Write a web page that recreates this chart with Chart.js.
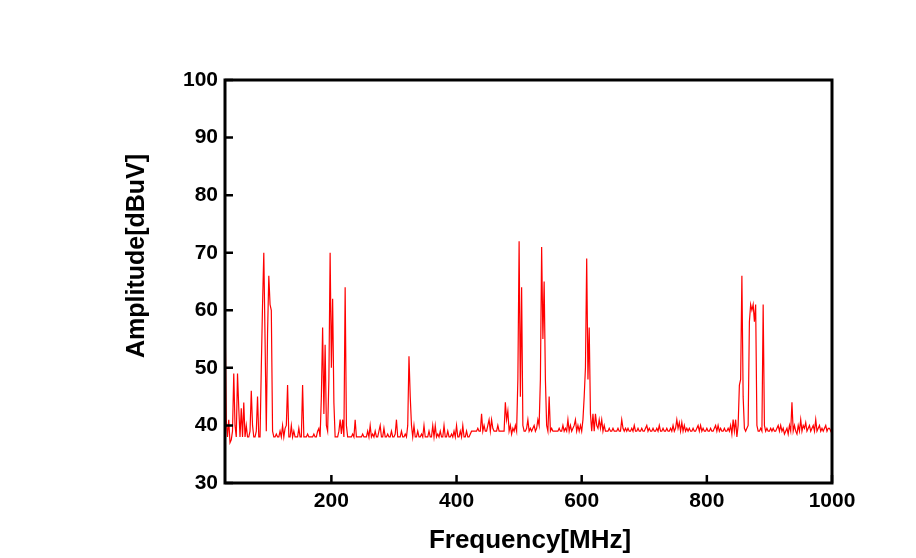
<!DOCTYPE html>
<html>
<head>
<meta charset="utf-8">
<title>Spectrum</title>
<script src="https://cdn.jsdelivr.net/npm/chart.js@4.4.1/dist/chart.umd.min.js"></script>
<style>
    html, body { margin: 0; padding: 0; background: #fff; }
    #wrap { width: 916px; height: 558px; }
</style>
</head>
<body>
<div id="wrap"><canvas id="spectrumChart" width="916" height="558"></canvas></div>
<script>
// Sweep grid (MHz)
const freqStart = 30;
const freqStep = 2;

// Amplitude readings [dBuV], one per 2 MHz step
const ampBand1 = [ // 30 - 276 MHz
    60, 41, 38, 41, 37, 37.5, 39, 49, 40, 38, 49, 43, 38, 43, 38, 44, 38, 40, 38, 38, 39, 46, 40, 38,
    38, 39, 45, 38, 38, 50, 61, 70, 55, 39, 56, 66, 61, 60, 39, 38, 38, 38.5, 38, 38, 39, 38, 40, 38, 39.5,
    40, 47, 38, 38, 40, 38, 39, 38, 38, 38, 39.5, 38, 38, 47, 38, 38, 38, 38.5, 38, 38, 38, 38, 38.5, 38, 38,
    39, 39.5, 38, 45, 57, 42, 54, 40, 39, 48, 70, 50, 62, 44, 38, 38, 38, 39, 41, 38.5, 41, 38, 64, 40, 38,
    38, 38, 38, 38.5, 38, 41, 38, 38, 38, 38, 38, 38.5, 38, 38, 38, 39, 38, 40, 38, 38.5, 38, 39, 38, 38, 39
];
const ampBand2 = [ // 278 - 526 MHz
    40, 38, 38, 39.5, 38, 38, 38.5, 38, 38, 39, 38, 38, 38.5, 41, 38, 38, 38, 39, 38, 38, 38.5, 38, 40, 52, 45,
    40, 38, 40, 38, 38, 39, 38, 38, 38.5, 38, 40, 38, 38, 38, 39, 38, 38, 40, 38, 40, 38, 38.5, 38, 39, 38,
    38, 40, 38, 38, 39, 38, 38, 38.5, 38, 39, 38, 40, 38, 38, 39, 38, 40, 38, 38, 39, 38, 38, 38.5, 39, 39,
    39, 39, 39, 39.5, 39, 39, 42, 39, 40, 39, 39, 40, 41, 39, 41, 39.5, 39, 39, 39, 40, 39, 39, 39, 39, 39,
    44, 41, 42.5, 39, 40, 38.5, 39.5, 39, 40, 39, 48, 72, 45, 64, 40, 39, 39, 39.5, 41, 39, 39.5, 39, 39.5, 40, 39
];
const ampBand3 = [ // 528 - 776 MHz
    39.5, 41, 40, 48, 71, 55, 65, 48, 40, 39, 45, 39, 39.5, 39, 39, 39, 39, 39, 39.5, 39, 39, 40, 39, 39.5, 39,
    41, 39, 40, 39, 39.5, 40, 41, 39, 40, 39, 40, 39, 41, 45, 50, 69, 48, 57, 42, 39, 42, 39, 42, 40, 39.5,
    41, 39.5, 41, 39, 40, 39, 39, 39, 39.5, 39, 39, 39.5, 39, 39, 39, 39.5, 39, 39, 41, 39.5, 39, 39.5, 39, 39.5, 39,
    39, 39.5, 39, 40, 39, 39, 39.5, 39, 39, 39.5, 39, 39, 39.5, 40, 39, 39.5, 39, 39, 39.5, 39, 39, 39.5, 39, 40, 39,
    39, 39.5, 39, 39, 39.5, 39, 39, 39.5, 39, 40, 39, 39.5, 41, 39.5, 40.5, 39, 40.5, 39, 40, 39, 39.5, 39, 39.5, 39, 39
];
const ampBand4 = [ // 778 - 1000 MHz
    39.5, 39, 39, 39.5, 40, 39, 40, 39, 39.5, 39, 39, 39.5, 39, 39, 39.5, 39, 39, 39.5, 40, 39, 40, 39, 39.5, 39, 39,
    39.5, 39, 39, 39.5, 39, 40, 38.5, 41, 39, 41, 38, 40, 47, 48, 66, 45, 39.5, 39, 39.5, 40, 58, 61, 60, 61, 58,
    61, 40, 39, 39, 39.5, 39, 61, 40, 39, 39.5, 39, 39, 39.5, 39, 39.5, 39, 39, 39.5, 40, 39, 40, 39, 39.5, 38.5, 39,
    39.5, 38.5, 40, 39, 44, 39, 40, 39, 38.5, 40, 39, 41, 39, 40, 39.5, 40.5, 39, 39.5, 40, 39, 39.5, 40, 39, 41, 39,
    39.5, 40, 39, 39.5, 39, 39.5, 40, 39, 39.5, 39.5, 39, 39.5
];

// Axis ticks
const xTicks = [200, 400, 600, 800, 1000];
const yTicks = [30, 40, 50, 60, 70, 80, 90, 100];

const xTitle = 'Frequency[MHz]';
const yTitle = 'Amplitude[dBuV]';

// Build points
const amplitude = ampBand1.concat(ampBand2, ampBand3, ampBand4);
const points = amplitude.map((v, i) => ({ x: freqStart + i * freqStep, y: v }));

// Frame, inward ticks and axis titles
const framePlugin = {
    id: 'frame',
    afterDraw(chart) {
        const ctx = chart.ctx;
        const area = chart.chartArea;
        const xs = chart.scales.x;
        const ys = chart.scales.y;

        ctx.save();
        ctx.strokeStyle = '#000';
        ctx.lineWidth = 3;
        ctx.strokeRect(area.left, area.top, area.right - area.left, area.bottom - area.top);

        ctx.lineWidth = 2.5;
        ctx.beginPath();
        xTicks.forEach(v => {
            const px = xs.getPixelForValue(v);
            ctx.moveTo(px, area.bottom);
            ctx.lineTo(px, area.bottom - 8);
        });
        yTicks.forEach(v => {
            const py = ys.getPixelForValue(v);
            ctx.moveTo(area.left, py);
            ctx.lineTo(area.left + 8, py);
        });
        ctx.stroke();

        ctx.fillStyle = '#000';
        ctx.font = 'bold 26px "Liberation Sans", Arial, sans-serif';
        ctx.textAlign = 'center';
        ctx.textBaseline = 'alphabetic';
        ctx.fillText(xTitle, 530, 548);

        ctx.translate(144, 256);
        ctx.rotate(-Math.PI / 2);
        ctx.font = 'bold 25px "Liberation Sans", Arial, sans-serif';
        ctx.fillText(yTitle, 0, 0);
        ctx.restore();
    }
};

// Create chart
new Chart(document.getElementById('spectrumChart'), {
    type: 'line',
    data: {
        datasets: [{
            data: points,
            borderColor: '#ff0000',
            borderWidth: 1.2,
            pointRadius: 0,
            tension: 0,
            fill: false
        }]
    },
    options: {
        responsive: false,
        animation: false,
        devicePixelRatio: 1,
        layout: { padding: { top: 80, right: 84, left: 0, bottom: 0 } },
        plugins: {
            legend: { display: false },
            tooltip: { enabled: false }
        },
        scales: {
            x: {
                type: 'linear',
                min: 30,
                max: 1000,
                afterFit: scale => { scale.height = 75; },
                afterBuildTicks: scale => { scale.ticks = xTicks.map(v => ({ value: v })); },
                grid: { display: false, drawTicks: false },
                border: { display: false },
                ticks: {
                    color: '#000',
                    padding: 6,
                    maxRotation: 0,
                    callback: v => String(v),
                    font: { family: '"Liberation Sans", Arial, sans-serif', size: 21, weight: 'bold' }
                }
            },
            y: {
                type: 'linear',
                min: 30,
                max: 100,
                afterFit: scale => { scale.width = 225; },
                afterBuildTicks: scale => { scale.ticks = yTicks.map(v => ({ value: v })); },
                grid: { display: false, drawTicks: false },
                border: { display: false },
                ticks: {
                    color: '#000',
                    padding: 7,
                    callback: v => String(v),
                    font: { family: '"Liberation Sans", Arial, sans-serif', size: 21, weight: 'bold' }
                }
            }
        }
    },
    plugins: [framePlugin]
});
</script>
</body>
</html>
